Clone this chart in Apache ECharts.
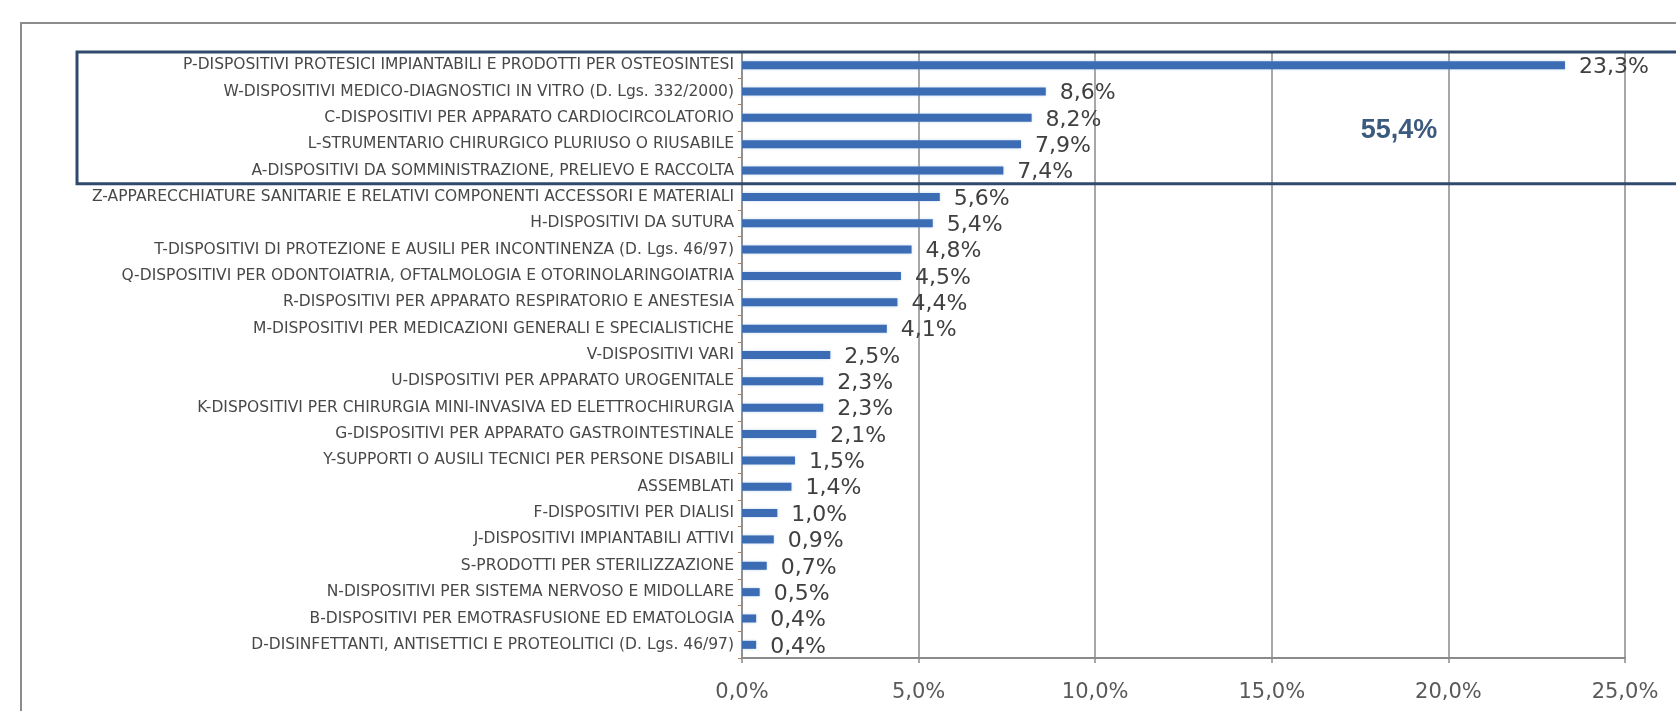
<!DOCTYPE html>
<html>
<head>
<meta charset="utf-8">
<script src="https://cdn.jsdelivr.net/npm/echarts@6/dist/echarts.min.js"></script>
<style>
html, body { margin: 0; padding: 0; background: #fff; }
#chartDiv { width: 1676px; height: 711px; }
</style>
</head>
<body>
<div id="chartDiv"></div>
<script>
var categories = [
	'P-DISPOSITIVI PROTESICI IMPIANTABILI E PRODOTTI PER OSTEOSINTESI',
	'W-DISPOSITIVI MEDICO-DIAGNOSTICI IN VITRO (D. Lgs. 332/2000)',
	'C-DISPOSITIVI PER APPARATO CARDIOCIRCOLATORIO',
	'L-STRUMENTARIO CHIRURGICO PLURIUSO O RIUSABILE',
	'A-DISPOSITIVI DA SOMMINISTRAZIONE, PRELIEVO E RACCOLTA',
	'Z-APPARECCHIATURE SANITARIE E RELATIVI COMPONENTI ACCESSORI E MATERIALI',
	'H-DISPOSITIVI DA SUTURA',
	'T-DISPOSITIVI DI PROTEZIONE E AUSILI PER INCONTINENZA (D. Lgs. 46/97)',
	'Q-DISPOSITIVI PER ODONTOIATRIA, OFTALMOLOGIA E OTORINOLARINGOIATRIA',
	'R-DISPOSITIVI PER APPARATO RESPIRATORIO E ANESTESIA',
	'M-DISPOSITIVI PER MEDICAZIONI GENERALI E SPECIALISTICHE',
	'V-DISPOSITIVI VARI',
	'U-DISPOSITIVI PER APPARATO UROGENITALE',
	'K-DISPOSITIVI PER CHIRURGIA MINI-INVASIVA ED ELETTROCHIRURGIA',
	'G-DISPOSITIVI PER APPARATO GASTROINTESTINALE',
	'Y-SUPPORTI O AUSILI TECNICI PER PERSONE DISABILI',
	'ASSEMBLATI',
	'F-DISPOSITIVI PER DIALISI',
	'J-DISPOSITIVI IMPIANTABILI ATTIVI',
	'S-PRODOTTI PER STERILIZZAZIONE',
	'N-DISPOSITIVI PER SISTEMA NERVOSO E MIDOLLARE',
	'B-DISPOSITIVI PER EMOTRASFUSIONE ED EMATOLOGIA',
	'D-DISINFETTANTI, ANTISETTICI E PROTEOLITICI (D. Lgs. 46/97)'
];
var values = [23.3, 8.6, 8.2, 7.9, 7.4, 5.6, 5.4, 4.8, 4.5, 4.4, 4.1, 2.5, 2.3, 2.3, 2.1, 1.5, 1.4, 1.0, 0.9, 0.7, 0.5, 0.4, 0.4];

var xMin = 0;
var xMax = 25;
var xStep = 5;

// prime 5 categorie evidenziate nel riquadro
var groupSize = 5;
var groupLabel = '55,4%';
var groupLabelX = 18.6;

var chart = echarts.init(document.getElementById('chartDiv'));

function pct(v) {
	return v.toFixed(1).replace('.', ',') + '%';
}

var option = {
	animation: false,
	backgroundColor: '#ffffff',
	grid: {
		left: 742,
		right: 51,
		top: 52,
		bottom: 53,
		containLabel: false
	},
	xAxis: {
		type: 'value',
		min: xMin,
		max: xMax,
		interval: xStep,
		axisLine: {
			show: true,
			lineStyle: { color: '#8a8a8a', width: 2 }
		},
		axisTick: {
			show: true,
			length: 5,
			lineStyle: { color: '#8a8a8a', width: 1.5 }
		},
		splitLine: {
			show: true,
			lineStyle: { color: '#8a8a8a', width: 1.5 }
		},
		axisLabel: {
			margin: 24,
			color: '#595959',
			fontSize: 21,
			fontFamily: 'DejaVu Sans',
			formatter: function (v) { return pct(v); }
		}
	},
	yAxis: {
		type: 'category',
		inverse: true,
		data: categories,
		axisLine: {
			show: true,
			lineStyle: { color: '#8a8a8a', width: 1.5 }
		},
		axisTick: {
			show: true,
			length: 4,
			lineStyle: { color: '#b08060', width: 1 }
		},
		axisLabel: {
			margin: 8,
			color: '#484848',
			fontSize: 15.5,
			fontFamily: 'DejaVu Sans'
		}
	},
	series: [
		{
			type: 'bar',
			data: values,
			barWidth: 8,
			itemStyle: {
				color: '#3b6cb4',
				shadowColor: 'rgba(150,190,230,0.6)',
				shadowBlur: 3
			},
			label: {
				show: true,
				position: 'right',
				distance: 14,
				offset: [0, 2],
				color: '#404040',
				fontSize: 22,
				fontFamily: 'DejaVu Sans',
				formatter: function (p) { return pct(p.value); }
			}
		}
	]
};

chart.setOption(option, true);

// riquadro sulle prime categorie e cornice esterna
var c0 = chart.convertToPixel({ yAxisIndex: 0 }, categories[0]);
var c1 = chart.convertToPixel({ yAxisIndex: 0 }, categories[1]);
var band = c1 - c0;
var boxTop = c0 - band / 2;
var boxBottom = c0 + (groupSize - 0.5) * band;
var labelX = chart.convertToPixel({ xAxisIndex: 0 }, groupLabelX);

chart.setOption({
	graphic: [
		{
			type: 'rect',
			shape: { x: 21, y: 23, width: 1700, height: 720 },
			style: { fill: 'none', stroke: '#8c8c8c', lineWidth: 2 },
			z: 1
		},
		{
			type: 'rect',
			shape: { x: 77, y: boxTop, width: 1640, height: boxBottom - boxTop },
			style: { fill: 'none', stroke: '#2f4a6d', lineWidth: 3 },
			z: 100
		},
		{
			type: 'text',
			x: labelX,
			y: c0 + 2.5 * band,
			style: {
				text: groupLabel,
				fill: '#3c5a7e',
				font: 'bold 27px "Liberation Sans"',
				align: 'center',
				verticalAlign: 'middle'
			},
			z: 100
		}
	]
});
</script>
</body>
</html>
